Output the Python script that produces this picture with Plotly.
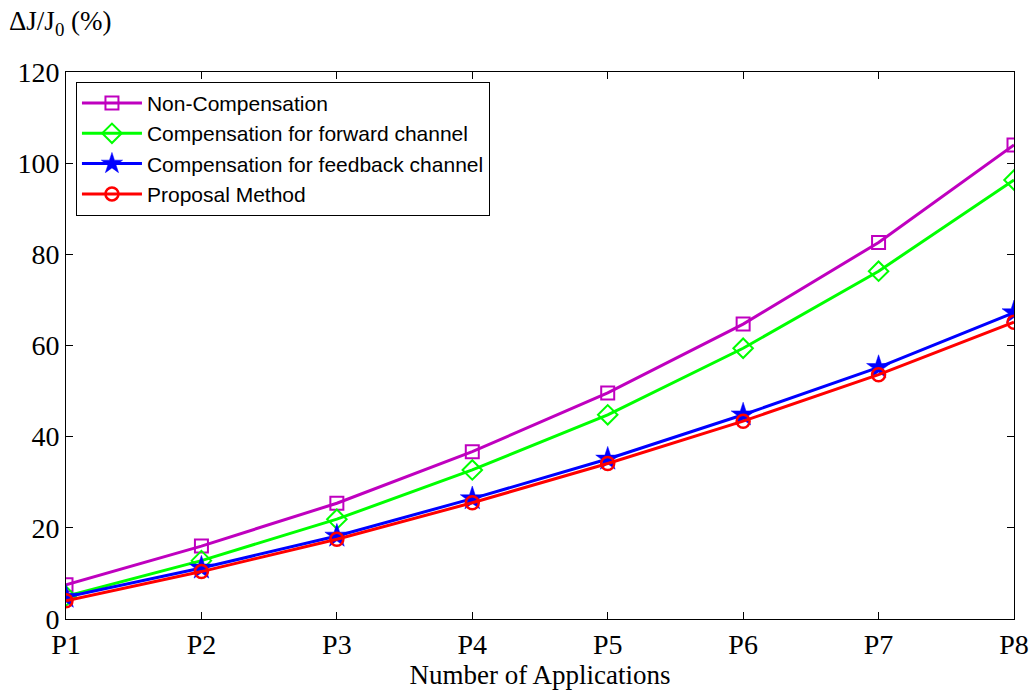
import plotly.graph_objects as go

categories = ["P1", "P2", "P3", "P4", "P5", "P6", "P7", "P8"]
non_comp = [7.5, 16.0, 25.4, 36.7, 49.6, 64.7, 82.6, 104.0]
comp_forward = [5.0, 12.8, 21.9, 32.7, 44.8, 59.4, 76.3, 96.3]
comp_feedback = [4.8, 11.2, 18.2, 26.4, 35.1, 44.8, 55.2, 67.2]
proposal = [4.0, 10.4, 17.5, 25.5, 34.1, 43.4, 53.6, 65.1]
y_ticks = [0, 20, 40, 60, 80, 100, 120]

series = [
    ("Non-Compensation", non_comp, "#BF00BF", "square-open", 13, 2),
    ("Compensation for forward channel", comp_forward, "#00FF00", "diamond-open", 15, 2),
    ("Compensation for feedback channel", comp_feedback, "#0000FF", "star", 18, 0),
    ("Proposal Method", proposal, "#FF0000", "circle-open", 13, 2.5),
]

fig = go.Figure()
for name, vals, color, sym, size, mlw in series:
    fig.add_trace(go.Scatter(
        x=categories, y=vals, name=name, mode="lines+markers",
        line=dict(color=color, width=3),
        marker=dict(symbol=sym, size=size, color=color,
                    line=dict(color=color, width=mlw if mlw else 0.5)),
    ))

fig.update_layout(
    width=1033, height=691,
    margin=dict(l=66, r=19, t=72, b=72),
    paper_bgcolor="white", plot_bgcolor="white",
    font=dict(family="Liberation Serif, Times New Roman, serif", size=27, color="black"),
    showlegend=True,
    legend=dict(
        x=0.0105, y=0.982, xanchor="left", yanchor="top",
        bordercolor="black", borderwidth=1, bgcolor="white",
        font=dict(family="Liberation Sans, Arial, sans-serif", size=21, color="black"),
        tracegroupgap=0, itemwidth=60,
    ),
    xaxis=dict(
        type="category", categoryorder="array", categoryarray=categories,
        range=[0, 7], showgrid=False, zeroline=False, automargin=False,
        showline=True, linecolor="black", linewidth=1, mirror="ticks",
        ticks="inside", ticklen=7, tickcolor="black",
        title=dict(text="Number of Applications", standoff=2,
                   font=dict(family="Liberation Serif, Times New Roman, serif", size=27)),
        tickfont=dict(size=28),
    ),
    yaxis=dict(
        range=[0, 120], tickvals=y_ticks, showgrid=False, zeroline=False, automargin=False,
        showline=True, linecolor="black", linewidth=1, mirror="ticks",
        ticks="inside", ticklen=7, tickcolor="black",
        tickfont=dict(size=28),
    ),
    annotations=[dict(
        text="ΔJ/J<sub>0</sub> (%)", xref="paper", yref="paper",
        x=-0.062, y=1.125, xanchor="left", yanchor="top", showarrow=False,
        font=dict(family="Liberation Serif, Times New Roman, serif", size=27),
    )],
)

fig.write_html("out.html")
